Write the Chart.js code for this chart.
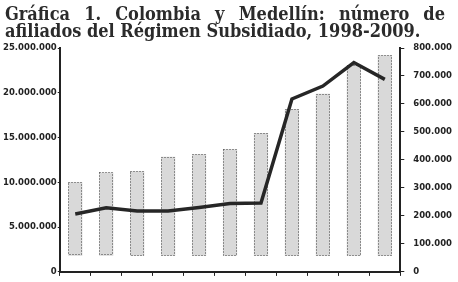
<!DOCTYPE html>
<html>
<head>
<meta charset="utf-8">
<script src="https://cdn.jsdelivr.net/npm/chart.js@4"></script>
<style>
    html, body { margin: 0; padding: 0; background: #fff; }
    #wrap { position: relative; width: 458px; height: 282px; overflow: hidden; }
    #chart { position: absolute; left: 0; top: 0; }
    .title {
        position: absolute;
        left: 5px;
        width: 440px;
        font-family: "DejaVu Serif Condensed", "DejaVu Serif", serif;
        font-stretch: condensed;
        font-weight: bold;
        font-size: 18px;
        line-height: 18px;
        color: #2b2b2b;
        white-space: nowrap;
    }
    #t1 { top: 5px; text-align: justify; text-align-last: justify; white-space: normal; }
    #t2 { top: 22px; }
</style>
</head>
<body>
<div id="wrap">
    <canvas id="chart" width="458" height="286"></canvas>
    <div class="title" id="t1">Gráfica 1. Colombia y Medellín: número de</div>
    <div class="title" id="t2">afiliados del Régimen Subsidiado, 1998-2009.</div>
</div>
<script>
const years = ["1998", "1999", "2000", "2001", "2002", "2003", "2004", "2005", "2006", "2007", "2008"];
// Colombia, afiliados (eje izquierdo)
const colombiaTop = [10000000, 11100000, 11250000, 12850000, 13150000, 13700000, 15500000, 18200000, 19900000, 23100000, 24200000];
const colombiaBase = [1800000, 1800000, 1800000, 1800000, 1800000, 1800000, 1800000, 1800000, 1800000, 1800000, 1800000];
// Medellín, afiliados (eje derecho)
const medellin = [207000, 229000, 218000, 218000, 230000, 244000, 246000, 618000, 664000, 748000, 688000];
const leftTicks = [0, 5000000, 10000000, 15000000, 20000000, 25000000];
const rightTicks = [0, 100000, 200000, 300000, 400000, 500000, 600000, 700000, 800000];

// fit the second title line to the width of the block
const t2 = document.getElementById("t2");
const t1 = document.getElementById("t1");
let size = 18;
while (t2.scrollWidth > 440 && size > 10) {
    size -= 0.25;
    t2.style.fontSize = size + "px";
}
t1.style.fontSize = size + "px";

const dots = (v) => String(v).replace(/\B(?=(\d{3})+(?!\d))/g, ".");

const dottedBars = {
    id: "dottedBars",
    afterDatasetDraw(chart, args) {
        if (args.meta.type !== "bar") {
            return;
        }
        const ctx = chart.ctx;
        ctx.save();
        ctx.setLineDash([1, 2]);
        ctx.strokeStyle = "#3a3a3a";
        ctx.lineWidth = 1;
        args.meta.data.forEach((bar) => {
            const p = bar.getProps(["x", "y", "base", "width"], true);
            const left = Math.round(p.x - p.width / 2) + 0.5;
            const top = Math.round(p.y) + 0.5;
            ctx.strokeRect(left, top, Math.round(p.width) - 1, Math.round(p.base - p.y) - 1);
        });
        ctx.restore();
    },
};

Chart.defaults.font.family = "'DejaVu Sans', sans-serif";
Chart.defaults.font.size = 8.5;
Chart.defaults.font.weight = "bold";
Chart.defaults.color = "#222";

new Chart(document.getElementById("chart"), {
    type: "bar",
    data: {
        labels: years,
        datasets: [
            {
                label: "Medellín",
                type: "line",
                data: medellin,
                yAxisID: "y1",
                borderColor: "#262626",
                borderWidth: 3.5,
                pointRadius: 0,
                tension: 0,
                order: 1,
            },
            {
                label: "Colombia",
                data: colombiaTop.map((v, i) => [colombiaBase[i], v]),
                yAxisID: "y",
                backgroundColor: "#d9d9d9",
                borderWidth: 0,
                barPercentage: 0.92,
                categoryPercentage: 0.5,
                order: 2,
            },
        ],
    },
    options: {
        responsive: false,
        devicePixelRatio: 1,
        animation: false,
        layout: {
            padding: { top: 48, bottom: 0, left: 2, right: -3 },
        },
        plugins: {
            legend: { display: false },
            tooltip: { enabled: false },
        },
        scales: {
            x: {
                offset: true,
                grid: {
                    display: true,
                    offset: true,
                    drawOnChartArea: false,
                    tickLength: 4,
                    color: "#222",
                    lineWidth: 1,
                },
                border: { display: true, color: "#222", width: 2 },
                ticks: { display: false },
            },
            y: {
                position: "left",
                min: 0,
                max: 25000000,
                afterBuildTicks: (axis) => {
                    axis.ticks = leftTicks.map((v) => ({ value: v }));
                },
                grid: {
                    display: true,
                    drawOnChartArea: false,
                    tickLength: 2,
                    color: "#222",
                },
                border: { display: true, color: "#222", width: 2 },
                ticks: { padding: 1, callback: (v) => dots(v) },
            },
            y1: {
                position: "right",
                min: 0,
                max: 800000,
                afterBuildTicks: (axis) => {
                    axis.ticks = rightTicks.map((v) => ({ value: v }));
                },
                grid: {
                    display: true,
                    drawOnChartArea: false,
                    tickLength: 4,
                    color: "#222",
                },
                border: { display: true, color: "#222", width: 2 },
                ticks: { padding: 9, callback: (v) => dots(v) },
            },
        },
    },
    plugins: [dottedBars],
});
</script>
</body>
</html>
